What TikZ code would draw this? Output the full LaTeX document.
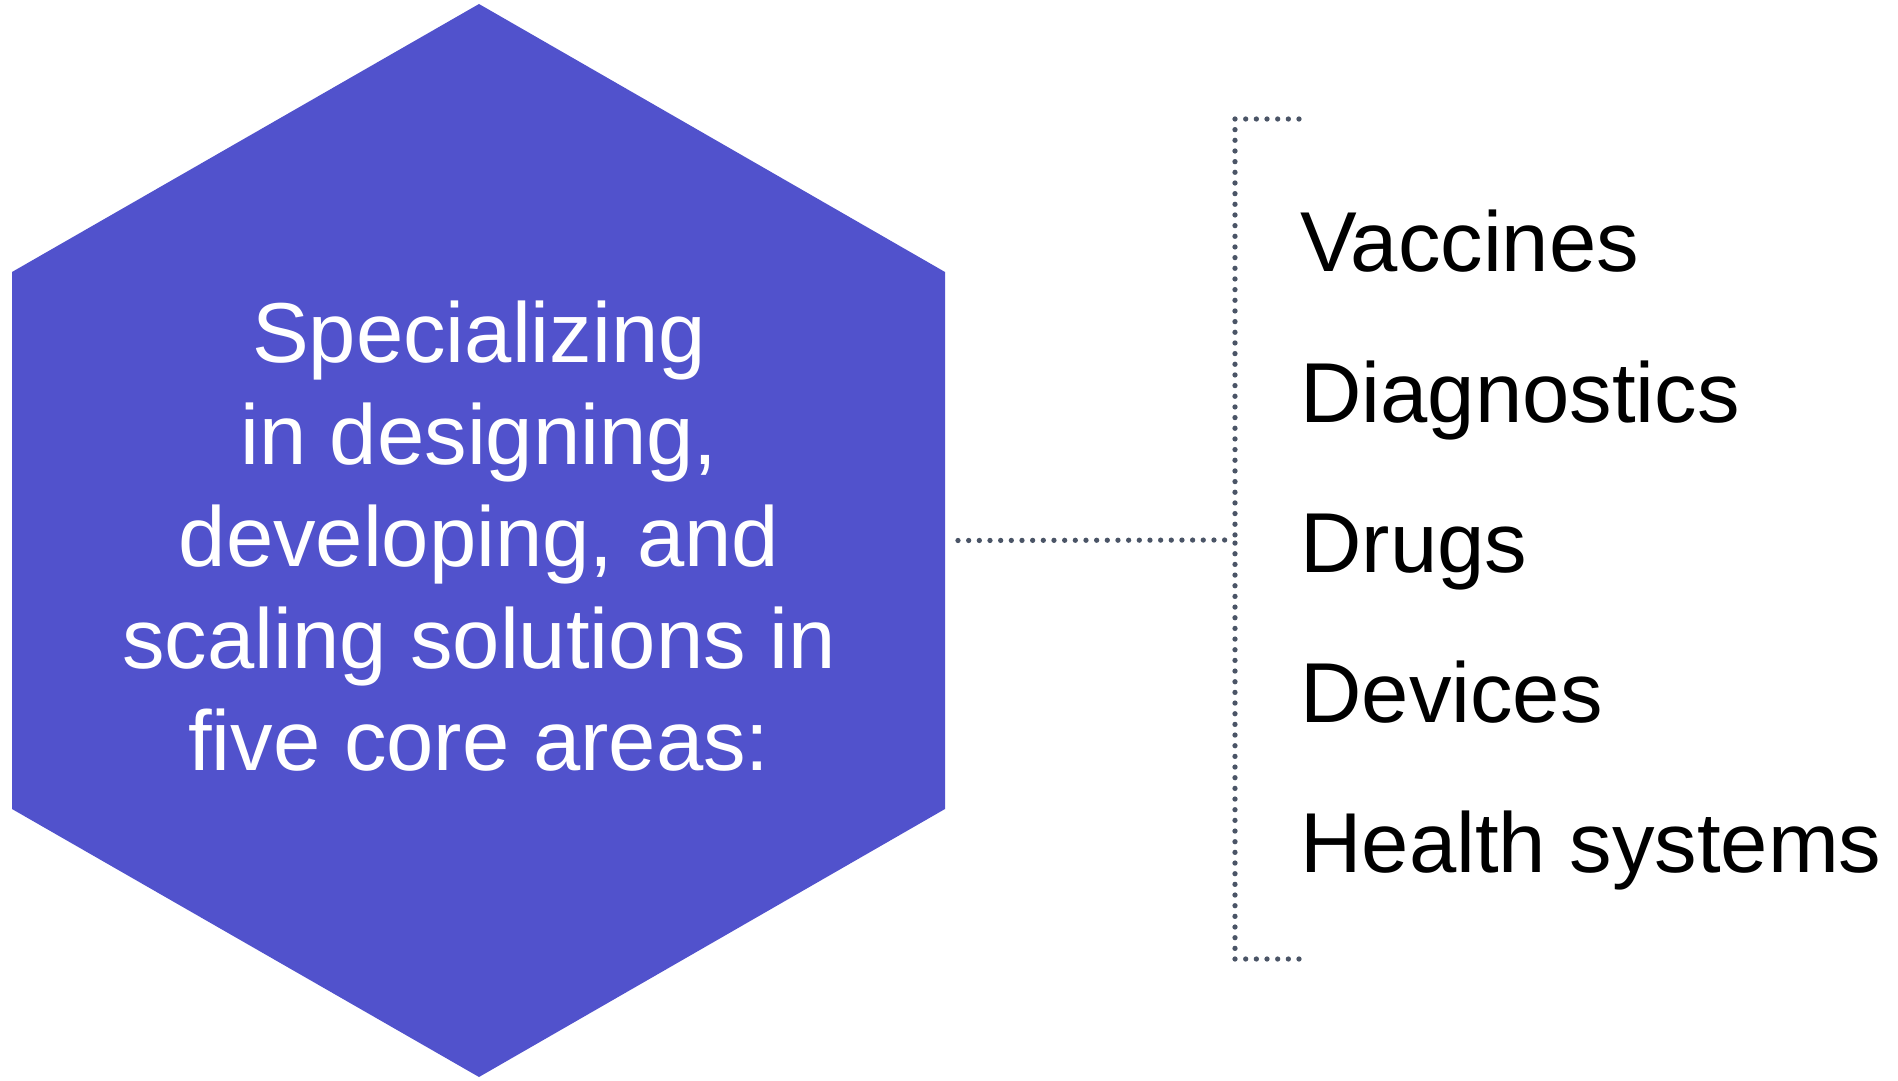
\documentclass[tikz,border=0pt]{standalone}
\usepackage{fontspec}
\setmainfont{Liberation Sans}
\usepackage{xcolor}
\usetikzlibrary{positioning,calc}
\definecolor{hexblue}{RGB}{81,82,204}
\definecolor{dotgrey}{RGB}{74,84,102}
\begin{document}
\begin{tikzpicture}[x=0.02cm, y=-0.02cm,
    hextext/.style={text=white, align=center, inner sep=0pt,
        font=\fontsize{48.4}{58.05}\selectfont},
    areatext/.style={anchor=base west, inner sep=0pt, font=\fontsize{48.4}{58}\selectfont},
    bracketline/.style={dotgrey, line width=3pt, line cap=round, dash pattern=on 0pt off 6.07pt}]
    \useasboundingbox (0,0) rectangle (1898,1081);
    % hexagon
    \coordinate (hexc) at (479,540.5);
    \coordinate (hexright) at (945,540.5);
    \fill[hexblue] (479,4) -- (945,272) -- (945,809) -- (479,1077) -- (12,809) -- (12,272) -- cycle;
    \node[hextext] (hex) at ($(hexc)+(0,-4)$) {Specializing\\in designing,\\developing, and\\scaling solutions in\\five core areas:};
    % bracket
    \coordinate (brtop) at (1235,119);
    \coordinate (brmid) at (1235,540);
    \coordinate (brbot) at (1235,959);
    \draw[bracketline] ($(brtop)+(64,0)$) -- (brtop) -- (brmid);
    \draw[bracketline] ($(brbot)+(64,0)$) -- (brbot) -- (brmid);
    \draw[bracketline] ($(hexright)+(13,0)$) -- (brmid);
    \foreach \area [count=\i] in {Vaccines, Diagnostics, Drugs, Devices, Health systems}
        \node[areatext] (area\i) at (1300, {272+150*(\i-1)}) {\area};
\end{tikzpicture}
\end{document}
